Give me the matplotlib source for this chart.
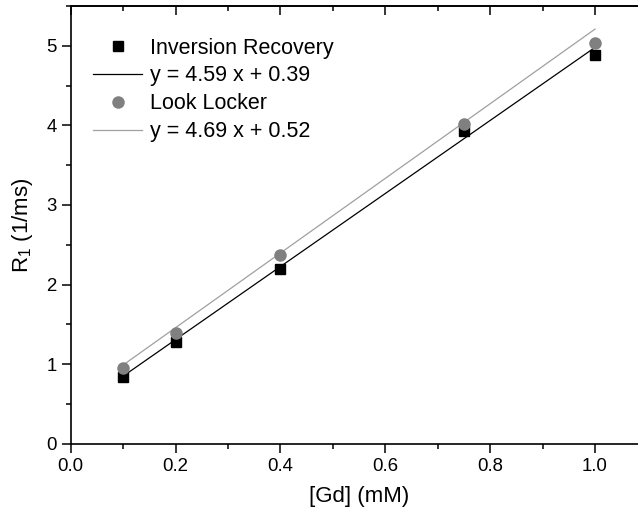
import matplotlib
matplotlib.use("Agg")
import matplotlib.pyplot as plt
import numpy as np
from matplotlib.ticker import MultipleLocator

plt.rcParams['font.family'] = ['Liberation Sans', 'DejaVu Sans']
plt.rcParams['mathtext.fontset'] = 'custom'
plt.rcParams['mathtext.rm'] = 'Liberation Sans'
plt.rcParams['mathtext.it'] = 'Liberation Sans:italic'

# Gd concentration (mM)
gd_conc = [0.1, 0.2, 0.4, 0.75, 1.0]
# R1 relaxation rates (1/ms)
r1_inversion_recovery = [0.84, 1.28, 2.20, 3.93, 4.89]
r1_look_locker = [0.95, 1.39, 2.37, 4.02, 5.03]
# Linear fit parameters (slope, intercept)
fit_ir = (4.59, 0.39)
fit_ll = (4.69, 0.52)

series_labels = ["Inversion Recovery", "Look Locker"]
x_ticks = [0.0, 0.2, 0.4, 0.6, 0.8, 1.0]
y_ticks = [0, 1, 2, 3, 4, 5]

fig = plt.figure(figsize=(6.38, 5.18), dpi=100)
ax = fig.add_axes([0.1108, 0.1434, 0.904, 0.845])

gray_pt = '#808080'
gray_ln = '#a0a0a0'

xs = np.array([min(gd_conc), max(gd_conc)])

ax.plot(gd_conc, r1_inversion_recovery, linestyle='none', marker='s',
        markersize=7.2, color='black', label=series_labels[0], zorder=3)
ax.plot(xs, fit_ir[0] * xs + fit_ir[1], color='black', lw=0.9,
        label=f"y = {fit_ir[0]:.2f} x + {fit_ir[1]:.2f}", zorder=2)
ax.plot(gd_conc, r1_look_locker, linestyle='none', marker='o',
        markersize=8, color=gray_pt, label=series_labels[1], zorder=4)
ax.plot(xs, fit_ll[0] * xs + fit_ll[1], color=gray_ln, lw=0.9,
        label=f"y = {fit_ll[0]:.2f} x + {fit_ll[1]:.2f}", zorder=2)

ax.set_xlim(0, 1.1)
ax.set_ylim(0, 5.5)
ax.set_xticks(x_ticks)
ax.set_xticklabels([f"{v:.1f}" for v in x_ticks])
ax.set_yticks(y_ticks)
ax.xaxis.set_minor_locator(MultipleLocator(0.1))
ax.yaxis.set_minor_locator(MultipleLocator(0.5))

for sp in ax.spines.values():
    sp.set_linewidth(1.2)

ax.tick_params(which='both', direction='out', width=1.1, labelsize=13.4,
               top=False, right=False)
ax.tick_params(which='major', length=6.5)
ax.tick_params(which='minor', length=3.6)

# mirrored ticks pointing inward on top and right
top = ax.secondary_xaxis('top')
top.set_xticks(x_ticks)
top.xaxis.set_minor_locator(MultipleLocator(0.1))
top.tick_params(which='both', direction='in', width=1.1, labeltop=False)
top.tick_params(which='major', length=6.5)
top.tick_params(which='minor', length=3.6)
top.spines['top'].set_linewidth(1.2)

right = ax.secondary_yaxis('right')
right.set_yticks(y_ticks)
right.yaxis.set_minor_locator(MultipleLocator(0.5))
right.tick_params(which='both', direction='in', width=1.1, labelright=False)
right.tick_params(which='major', length=6.5)
right.tick_params(which='minor', length=3.6)
right.spines['right'].set_linewidth(1.2)

ax.set_xlabel("[Gd] (mM)", fontsize=16, labelpad=8)
ax.set_ylabel(r"R$_1$ (1/ms)", fontsize=16, labelpad=8)

ax.legend(loc='upper left', bbox_to_anchor=(0.1454, 0.9276),
          bbox_transform=fig.transFigure, frameon=False, fontsize=15.5,
          handlelength=2.3, handletextpad=0.35, labelspacing=0.32,
          borderpad=0, borderaxespad=0)

fig.savefig("out.png", dpi=100)
